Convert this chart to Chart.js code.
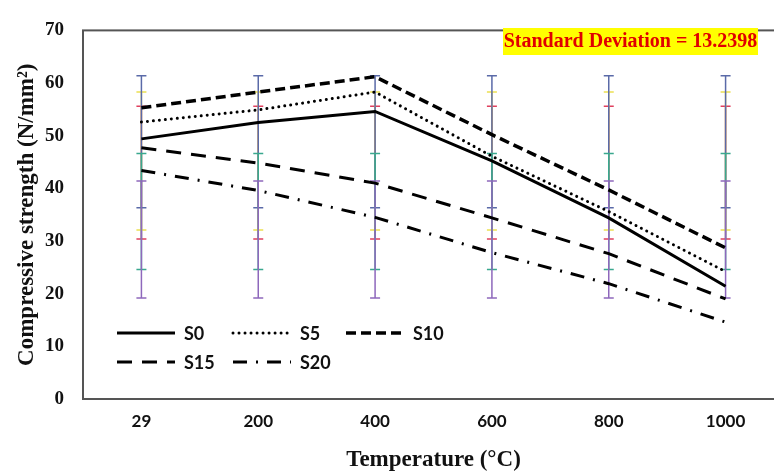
<!DOCTYPE html>
<html>
<head>
<meta charset="utf-8">
<title>Compressive strength vs temperature</title>
<script src="https://cdn.jsdelivr.net/npm/chart.js@4.4.0/dist/chart.umd.min.js"></script>
<style>
  html, body { margin: 0; padding: 0; background: #fff; overflow: hidden; }
  canvas { display: block; }
</style>
</head>
<body>
<canvas id="chart" width="800" height="473"></canvas>
<script>
/* Values */
var temperatures = ['29', '200', '400', '600', '800', '1000'];
var series_names = ['S0', 'S5', 'S10', 'S15', 'S20'];
var s0  = [49.4, 52.5, 54.6, 45.2, 34.4, 21.4];
var s5  = [52.6, 54.9, 58.3, 46.1, 35.6, 24.2];
var s10 = [55.3, 58.3, 61.2, 50.2, 39.7, 28.7];
var s15 = [47.7, 44.8, 41.0, 34.4, 27.6, 19.0];
var s20 = [43.4, 39.6, 34.5, 27.8, 21.9, 14.6];

/* Error bar ends for each series (same at every temperature) */
var err_low  = [30.4, 32.1, 36.3, 24.6, 19.2];
var err_high = [55.6, 58.3, 61.4, 46.6, 41.4];

var y_min = 0, y_max = 70, y_step = 10;
var sd_note = 'Standard Deviation = 13.2398';

var serif = "'Liberation Serif', 'Times New Roman', serif";
var sans = "Lato, 'Open Sans', sans-serif";

/* line styles */
var dashes = [[], [0.01, 6], [10, 5], [15, 10], [14, 9, 2, 9]];
var widths = [3, 3, 3.5, 3, 3];
var err_colors = ['#e0405e', '#ecdf52', '#5a6aa8', '#3aa88e', '#8e68bc'];
var all_values = [s0, s5, s10, s15, s20];

/* Frame round the plot area */
const frame = {
  id: 'frame',
  afterDraw(chart) {
    const a = chart.chartArea, ctx = chart.ctx;
    ctx.save();
    ctx.strokeStyle = '#555';
    ctx.lineWidth = 2;
    ctx.strokeRect(a.left, a.top, a.right - a.left, a.bottom - a.top);
    ctx.restore();
  }
};

/* Vertical error bars with caps */
const errorBars = {
  id: 'errorBars',
  beforeDatasetsDraw(chart) {
    const ctx = chart.ctx, xs = chart.scales.x, ys = chart.scales.y;
    chart.data.datasets.forEach(function (ds, i) {
      const top = ys.getPixelForValue(err_high[i]);
      const bot = ys.getPixelForValue(err_low[i]);
      ctx.save();
      ctx.strokeStyle = err_colors[i];
      ctx.lineWidth = 1.5;
      ds.data.forEach(function (v, j) {
        const px = xs.getPixelForValue(j);
        ctx.beginPath();
        ctx.moveTo(px, top); ctx.lineTo(px, bot);
        ctx.moveTo(px - 5, top); ctx.lineTo(px + 5, top);
        ctx.moveTo(px - 5, bot); ctx.lineTo(px + 5, bot);
        ctx.stroke();
      });
      ctx.restore();
    });
  }
};

/* Legend drawn inside the plot, three items then two */
const innerLegend = {
  id: 'innerLegend',
  afterDraw(chart) {
    const ctx = chart.ctx;
    const cols = [117, 233, 346], rows = [333, 362];
    ctx.save();
    ctx.font = 'bold 18px ' + sans;
    ctx.fillStyle = '#111';
    ctx.textBaseline = 'middle';
    chart.data.datasets.forEach(function (ds, i) {
      const x = cols[i % 3], y = rows[Math.floor(i / 3)];
      ctx.beginPath();
      ctx.strokeStyle = '#000';
      ctx.lineWidth = ds.borderWidth;
      ctx.lineCap = ds.borderCapStyle;
      ctx.setLineDash(ds.borderDash);
      ctx.moveTo(x, y); ctx.lineTo(x + 58, y);
      ctx.stroke();
      ctx.setLineDash([]);
      ctx.fillText(ds.label, x + 67, y + 1);
    });
    ctx.restore();
  }
};

/* Yellow note in the top right corner */
const note = {
  id: 'note',
  afterDraw(chart) {
    const ctx = chart.ctx;
    ctx.save();
    ctx.fillStyle = '#ffff00';
    ctx.fillRect(503, 28, 255, 27);
    ctx.font = 'bold 20px ' + serif;
    ctx.fillStyle = '#e00000';
    ctx.textAlign = 'center';
    ctx.textBaseline = 'middle';
    ctx.fillText(sd_note, 630.5, 42);
    ctx.restore();
  }
};

const datasets = series_names.map(function (name, i) {
  return {
    label: name,
    data: all_values[i],
    borderColor: '#000',
    backgroundColor: '#000',
    borderWidth: widths[i],
    borderDash: dashes[i],
    borderCapStyle: i === 1 ? 'round' : 'butt',
    pointRadius: 0,
    tension: 0,
    fill: false
  };
});

const ctx = document.getElementById('chart');

const chart = new Chart(ctx, {
  type: 'line',
  data: { labels: temperatures, datasets: datasets },
  plugins: [errorBars, frame, innerLegend, note],
  options: {
    responsive: false,
    animation: false,
    events: [],
    layout: { padding: { left: 0, top: 18, right: 16, bottom: 0 } },
    plugins: { legend: { display: false }, tooltip: { enabled: false } },
    scales: {
      x: {
        offset: true,
        grid: { display: false, drawTicks: false },
        border: { display: false },
        ticks: { color: '#111', font: { family: sans, size: 17, weight: 'bold' }, padding: 12 },
        title: {
          display: true,
          text: 'Temperature (°C)',
          color: '#111',
          font: { family: serif, size: 23, weight: 'bold', lineHeight: 1 },
          padding: { top: 0, bottom: 1 }
        },
        afterFit: function (s) { s.height = 74; }
      },
      y: {
        min: y_min,
        max: y_max,
        grid: { display: false, drawTicks: false },
        border: { display: false },
        ticks: { stepSize: y_step, color: '#111', font: { family: serif, size: 19, weight: 'bold' }, padding: 19 },
        title: {
          display: true,
          text: 'Compressive strength (N/mm²)',
          color: '#111',
          font: { family: serif, size: 23, weight: 'bold', lineHeight: 1 },
          padding: { top: 16, bottom: 0 }
        },
        afterFit: function (s) { s.width = 83; }
      }
    }
  }
});
</script>
</body>
</html>
